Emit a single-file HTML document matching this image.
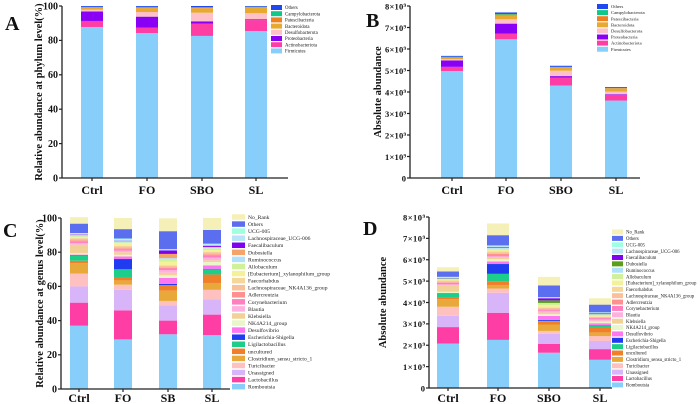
<!DOCTYPE html>
<html><head><meta charset="utf-8">
<style>
html,body{margin:0;padding:0;background:#fff;}
svg{display:block;font-family:"Liberation Serif",serif;}
</style></head>
<body>
<svg id="fig" width="700" height="404" viewBox="0 0 700 404"></svg>
<script>
// ---------- Data ----------
const groupsAB = ["Ctrl","FO","SBO","SL"];
const groupsC = ["Ctrl","FO","SB","SL"];
const groupsD = ["Ctrl","FO","SBO","SL"];
const phyla = ["Firmicutes","Actinobacteriota","Proteobacteria","Desulfobacterota","Bacteroidota","Patescibacteria","Campylobacterota","Others"];
const phylaColors = ["#87CEFA","#FF3EA5","#8A00F5","#FFC0C8","#E8A930","#F07F20","#10C888","#1F48F0"];
// A: relative % per group (rows = groups, cols = phyla)
const relPhylum = [
 [87.8,3.5,5.5,1.0,1.2,0.4,0.1,0.5],
 [84.2,3.3,6.3,2.7,2.3,0.4,0.3,0.5],
 [82.6,7.2,1.3,5.0,2.6,0.5,0.1,0.7],
 [85.4,6.4,0.5,3.5,3.4,0.3,0.1,0.4]
];
// B: absolute (×10^9)
const absPhylum = [
 [4.97,0.20,0.30,0.06,0.07,0.03,0.01,0.04],
 [6.45,0.27,0.46,0.20,0.17,0.05,0.03,0.07],
 [4.30,0.37,0.07,0.25,0.14,0.03,0.01,0.05],
 [3.60,0.27,0.03,0.12,0.13,0.03,0.01,0.04]
];
const genera = ["Romboutsia","Lactobacillus","Unassigned","Turicibacter","Clostridium_sensu_stricto_1","uncultured","Ligilactobacillus","Escherichia-Shigella","Desulfovibrio","NK4A214_group","Klebsiella","Blautia","Corynebacterium","Adlercreutzia","Lachnospiraceae_NK4A136_group","Faecorhabdus","[Eubacterium]_xylanophilum_group","Allobaculum","Ruminococcus","Dubosiella","Faecalibaculum","Lachnospiraceae_UCG-006","UCG-005","Others","No_Rank"];
const generaColorsC = ["#87CEFA","#FF3EA5","#D8B4F8","#FFC0C0","#E8A93A","#F07F2A","#1DCE8A","#1F3CF0","#FF77F0","#E8F6C8","#F2D196","#FFB0DF","#FF7FBF","#FF9090","#F9C09A","#F5D79A","#F5F09A","#D0F09A","#B0E0FA","#F4A468","#8000F0","#B8E4F8","#A0FFE0","#5B6EF0","#F5F0B8"];
const generaColorsD = ["#87CEFA","#FF3EA5","#D8B4F8","#FFC0C0","#E8A93A","#F07F2A","#1DCE8A","#1F3CF0","#FF77F0","#E8F6C8","#F2D196","#FFB0DF","#FF7FBF","#FF9090","#F9C09A","#F5D79A","#F5F09A","#D0F09A","#B0E0FA","#5A9E1A","#8000F0","#B8E4F8","#A0FFE0","#5B6EF0","#F5F0B8"];
// C: relative % per group
const relGenus = [
 [37,13.5,9.5,7.5,6,1.5,3,0.3,0.3,0.8,5,1,1,0.5,1,0.5,0.5,0.5,0.5,0.3,0.2,0.5,0.3,5.5,3.8],
 [29,17,12,3,2.5,2,4.5,6,1.5,1,1.5,1,0.8,0.5,1,0.5,1.5,0.5,0.5,0.2,0.2,0.5,0.8,5.5,6.5],
 [32,8,9,2.5,6,3,0.3,0.7,3.5,1.5,1.5,1.5,1,0.5,1,0.5,2,1.5,0.5,2.5,2,0.5,0.3,10.5,7.5],
 [31.5,12,9,5.5,4,5,3,0.3,2,2,1,1.5,1.5,0.5,1,0.5,1,1,0.5,0.3,0.7,0.8,0.4,8,7]
];
// D: absolute (×10^9)
const absGenus = [
 [2.08,0.77,0.53,0.42,0.35,0.08,0.17,0.02,0.02,0.06,0.30,0.05,0.07,0.03,0.05,0.03,0.03,0.03,0.03,0.02,0.01,0.03,0.02,0.25,0.20],
 [2.25,1.27,0.93,0.20,0.17,0.17,0.35,0.46,0.12,0.10,0.07,0.07,0.06,0.05,0.07,0.05,0.07,0.05,0.04,0.02,0.02,0.05,0.03,0.48,0.55],
 [1.65,0.42,0.47,0.13,0.30,0.15,0.02,0.05,0.18,0.08,0.08,0.08,0.05,0.03,0.05,0.03,0.10,0.08,0.03,0.12,0.10,0.03,0.02,0.55,0.40],
 [1.32,0.50,0.38,0.23,0.17,0.21,0.13,0.01,0.08,0.08,0.04,0.06,0.06,0.02,0.04,0.02,0.04,0.04,0.02,0.01,0.03,0.03,0.02,0.36,0.30]
];
const pctTicks = ["0","20","40","60","80","100"];
const absTicks = ["0","1×10⁹","2×10⁹","3×10⁹","4×10⁹","5×10⁹","6×10⁹","7×10⁹","8×10⁹"];

// ---------- Drawing ----------
const NS="http://www.w3.org/2000/svg";
const svg=document.getElementById('fig');
function mk(tag,attrs,parent){const e=document.createElementNS(NS,tag);for(const k in attrs)e.setAttribute(k,attrs[k]);(parent||svg).appendChild(e);return e;}

function panel(p){
  const g=mk('g',{});
  
  
  const yS=v=>p.y0-(v/p.max)*(p.y0-p.yTop);
  p.data.forEach((row,gi)=>{
    let acc=0;const cx=p.centers[gi];
    row.forEach((v,si)=>{
      const r=mk('rect',{x:cx-p.bw/2,y:yS(acc+v),width:p.bw,height:Math.max(0,yS(acc)-yS(acc+v)),fill:p.colors[si]},g);
      
      
      acc+=v;
    });
  });
  const ya=mk('line',{x1:p.x0,y1:p.yTop,x2:p.x0,y2:p.y0,stroke:'#222','stroke-width':1.3},g);
  
  const xa=mk('line',{x1:p.x0,y1:p.y0,x2:p.x1,y2:p.y0,stroke:'#222','stroke-width':1.3},g);
  
  p.ticks.forEach((t,i)=>{
    const v=i*p.step,y=yS(v);
    mk('line',{x1:p.x0-3,y1:y,x2:p.x0,y2:y,stroke:'#222','stroke-width':1.2},g);
    const tx=mk('text',{x:p.x0-4,y:y+3.3,'text-anchor':'end','font-size':p.tickFs,'font-weight':'bold',fill:'#111'},g);
    if(p.tickLen && i>0) tx.setAttribute('textLength',p.tickLen);
    tx.textContent=t;
    
  });
  p.cats.forEach((c,i)=>{
    mk('line',{x1:p.centers[i],y1:p.y0,x2:p.centers[i],y2:p.y0+3,stroke:'#222','stroke-width':1.2},g);
    const tx=mk('text',{x:p.centers[i],y:p.catY,'text-anchor':'middle','font-size':12,'font-weight':'bold',fill:'#111'},g);
    tx.textContent=c;
    
  });
  const tt=mk('text',{x:0,y:0,transform:`translate(${p.titleX},${(p.y0+p.yTop)/2}) rotate(-90)`,'text-anchor':'middle','font-size':10.5,'font-weight':'bold',fill:'#111'},g);
  tt.textContent=p.title;
  
  const pl=mk('text',{x:p.lx,y:p.ly,'font-size':20,'font-weight':'bold',fill:'#111'},g);
  pl.textContent=p.id;
  
  const lg=mk('g',{},g);
  
  const n=p.series.length;
  for(let k=0;k<n;k++){
    const si=n-1-k,y=p.legY+k*p.legDy;
    const e=mk('g',{},lg);
    
    mk('rect',{x:p.legX,y:y-p.legH/2,width:p.legW,height:p.legH,fill:p.colors[si]},e);
    const tx=mk('text',{x:p.legX+p.legW+3,y:y+p.legFs*0.35,'font-size':p.legFs,fill:'#222'},e);
    tx.textContent=p.series[si];
  }
}

panel({id:'A',cats:groupsAB,series:phyla,colors:phylaColors,data:relPhylum,max:100,step:20,ticks:pctTicks,
  x0:62,x1:288,y0:178,yTop:6,centers:[92,147,202,256],bw:22,catY:194,tickFs:10,titleX:42,lx:5,ly:30,
  title:'Relative abundance at phylum level(%)',legX:271,legY:7.5,legDy:6.2,legW:11,legH:5,legFs:4.8});
panel({id:'B',cats:groupsAB,series:phyla,colors:phylaColors,data:absPhylum,max:8,step:1,ticks:absTicks,tickLen:21,
  x0:410,x1:640,y0:178,yTop:6,centers:[452,506,561,616],bw:22,catY:194,tickFs:8.5,titleX:381,lx:366,ly:27,
  title:'Absolute abundance',legX:597,legY:6.5,legDy:6.1,legW:11,legH:5,legFs:4.6});
panel({id:'C',cats:groupsC,series:genera,colors:generaColorsC,data:relGenus,max:100,step:20,ticks:pctTicks,
  x0:61,x1:230,y0:389,yTop:218,centers:[79,123,168,212],bw:18,catY:402,tickFs:10,titleX:43,lx:3,ly:237,
  title:'Relative abundance at genus level(%)',legX:232,legY:217,legDy:7.07,legW:13,legH:5.5,legFs:5.6});
panel({id:'D',cats:groupsD,series:genera,colors:generaColorsD,data:absGenus,max:8,step:1,ticks:absTicks,tickLen:22,
  x0:429,x1:612,y0:388,yTop:217,centers:[448,498,549,600],bw:22,catY:402,tickFs:8.5,titleX:386,lx:363,ly:235,
  title:'Absolute abundance',legX:612,legY:232,legDy:6.37,legW:11,legH:5,legFs:4.8});
</script>
</body></html>
